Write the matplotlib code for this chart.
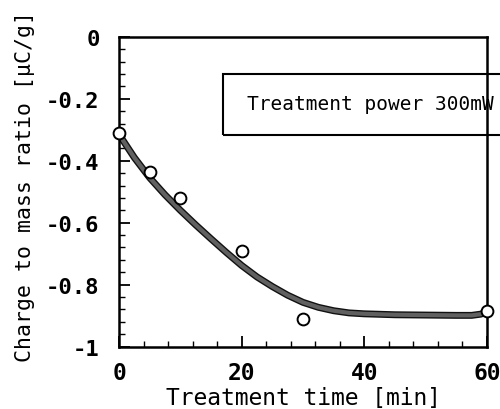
import matplotlib
matplotlib.use('Agg')
import matplotlib.pyplot as plt
import matplotlib.patheffects as pe
from matplotlib.patches import Rectangle
from matplotlib.ticker import MultipleLocator

# measured points
time_pts = [0, 5, 10, 20, 30, 60]
charge_pts = [-0.312, -0.435, -0.521, -0.690, -0.910, -0.886]

# fitted curve
curve_t = [0, 2.5, 5, 7.5, 10, 12.5, 15, 17.5, 20, 22.5, 25, 27.5, 30,
           32.5, 35, 37.5, 40, 45, 50, 55, 57.5, 59, 60]
curve_q = [-0.315, -0.39, -0.455, -0.51, -0.56, -0.607, -0.652, -0.696,
           -0.738, -0.775, -0.806, -0.834, -0.857, -0.873, -0.884, -0.891,
           -0.894, -0.897, -0.898, -0.899, -0.899, -0.895, -0.886]

xticks = [0, 20, 40, 60]
yticks = [-1, -0.8, -0.6, -0.4, -0.2, 0]
ylabels = ['-1', '-0.8', '-0.6', '-0.4', '-0.2', '0']

mono = 'DejaVu Sans Mono'

fig = plt.figure(figsize=(5, 4.1), dpi=100)
ax = fig.add_axes([0.238, 0.152, 0.736, 0.756])

ax.plot(curve_t, curve_q, color='#606060', lw=3, solid_capstyle='round',
        path_effects=[pe.Stroke(linewidth=5, foreground='#111111'), pe.Normal()])
ax.plot(time_pts, charge_pts, 'o', mfc='white', mec='black', ms=8.5, mew=1.4,
        clip_on=False, zorder=5)

ax.set_xlim(0, 60)
ax.set_ylim(-1, 0)
ax.set_xticks(xticks)
ax.set_xticklabels([str(t) for t in xticks], family=mono, fontsize=16.5, fontweight='bold')
ax.set_yticks(yticks)
ax.set_yticklabels(ylabels, family=mono, fontsize=16, fontweight='bold')
ax.xaxis.set_minor_locator(MultipleLocator(4))
ax.yaxis.set_minor_locator(MultipleLocator(0.04))
ax.tick_params(which='major', direction='in', length=8, width=1.3)
ax.tick_params(axis='x', which='major', pad=10)
ax.tick_params(axis='y', which='major', pad=14)
ax.tick_params(which='minor', direction='in', length=4, width=1)
for s in ax.spines.values():
    s.set_linewidth(1.8)

ax.set_xlabel('Treatment time [min]', family=mono, fontsize=16.5, va='center')
ax.xaxis.set_label_coords(0.5, -0.165)
ax.set_ylabel('Charge to mass ratio [μC/g]', family=mono, fontsize=15.5, va='center')
ax.yaxis.set_label_coords(-0.255, 0.52)

# annotation box, running off the right edge
box = Rectangle((223 / 500, 1 - 136 / 410), 300 / 500, 61 / 410,
                transform=fig.transFigure, fill=False, lw=1.5, ec='black',
                clip_on=False)
fig.add_artist(box)
fig.text(247 / 500, 1 - 104 / 410, 'Treatment power 300mW', family=mono,
         fontsize=14, va='center', ha='left')

fig.savefig('out.png', dpi=100)
